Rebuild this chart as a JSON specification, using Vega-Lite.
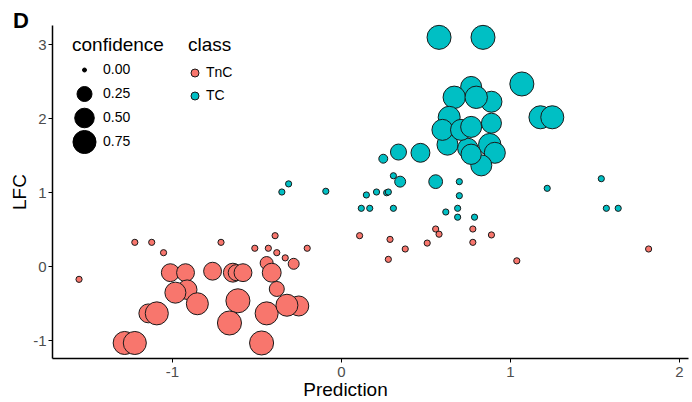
{
  "$schema": "https://vega.github.io/schema/vega-lite/v6.json",
  "width": 636,
  "height": 333,
  "autosize": {"type": "none"},
  "padding": {"left": 52, "top": 25, "right": 4, "bottom": 44},
  "config": {"view": {"stroke": null}, "font": "Liberation Sans", "legend": {"padding": 0}},
  "title": {"text": "D", "anchor": "start", "frame": "group", "orient": "top", "baseline": "alphabetic", "offset": 0, "dx": -39, "dy": 27, "fontSize": 22, "fontWeight": "bold", "color": "black"},
  "data": {"values": [
    {"x": -1.55, "y": -0.18, "class": "TnC", "confidence": 0.01},
    {"x": -1.22, "y": 0.32, "class": "TnC", "confidence": 0.01},
    {"x": -1.12, "y": 0.32, "class": "TnC", "confidence": 0.01},
    {"x": -1.05, "y": 0.18, "class": "TnC", "confidence": 0.01},
    {"x": -1.01, "y": -0.09, "class": "TnC", "confidence": 0.40},
    {"x": -0.92, "y": -0.09, "class": "TnC", "confidence": 0.40},
    {"x": -0.91, "y": -0.32, "class": "TnC", "confidence": 0.50},
    {"x": -0.98, "y": -0.36, "class": "TnC", "confidence": 0.60},
    {"x": -0.85, "y": -0.51, "class": "TnC", "confidence": 0.67},
    {"x": -1.14, "y": -0.64, "class": "TnC", "confidence": 0.46},
    {"x": -1.09, "y": -0.64, "class": "TnC", "confidence": 0.75},
    {"x": -1.28, "y": -1.04, "class": "TnC", "confidence": 0.75},
    {"x": -1.22, "y": -1.04, "class": "TnC", "confidence": 0.75},
    {"x": -0.71, "y": 0.32, "class": "TnC", "confidence": 0.01},
    {"x": -0.76, "y": -0.07, "class": "TnC", "confidence": 0.40},
    {"x": -0.64, "y": -0.09, "class": "TnC", "confidence": 0.46},
    {"x": -0.62, "y": -0.09, "class": "TnC", "confidence": 0.30},
    {"x": -0.58, "y": -0.09, "class": "TnC", "confidence": 0.40},
    {"x": -0.51, "y": 0.24, "class": "TnC", "confidence": 0.01},
    {"x": -0.43, "y": 0.24, "class": "TnC", "confidence": 0.01},
    {"x": -0.39, "y": 0.41, "class": "TnC", "confidence": 0.01},
    {"x": -0.38, "y": 0.18, "class": "TnC", "confidence": 0.01},
    {"x": -0.33, "y": 0.11, "class": "TnC", "confidence": 0.01},
    {"x": -0.28, "y": 0.03, "class": "TnC", "confidence": 0.10},
    {"x": -0.44, "y": 0.04, "class": "TnC", "confidence": 0.17},
    {"x": -0.41, "y": -0.09, "class": "TnC", "confidence": 0.46},
    {"x": -0.38, "y": -0.31, "class": "TnC", "confidence": 0.25},
    {"x": -0.20, "y": 0.24, "class": "TnC", "confidence": 0.01},
    {"x": -0.61, "y": -0.47, "class": "TnC", "confidence": 0.83},
    {"x": -0.66, "y": -0.77, "class": "TnC", "confidence": 0.83},
    {"x": -0.44, "y": -0.64, "class": "TnC", "confidence": 0.75},
    {"x": -0.25, "y": -0.54, "class": "TnC", "confidence": 0.53},
    {"x": -0.32, "y": -0.53, "class": "TnC", "confidence": 0.67},
    {"x": -0.47, "y": -1.04, "class": "TnC", "confidence": 0.83},
    {"x": 0.11, "y": 0.41, "class": "TnC", "confidence": 0.01},
    {"x": 0.29, "y": 0.36, "class": "TnC", "confidence": 0.01},
    {"x": 0.28, "y": 0.09, "class": "TnC", "confidence": 0.01},
    {"x": 0.38, "y": 0.23, "class": "TnC", "confidence": 0.01},
    {"x": 0.51, "y": 0.31, "class": "TnC", "confidence": 0.01},
    {"x": 0.56, "y": 0.50, "class": "TnC", "confidence": 0.01},
    {"x": 0.58, "y": 0.43, "class": "TnC", "confidence": 0.01},
    {"x": 0.78, "y": 0.50, "class": "TnC", "confidence": 0.01},
    {"x": 0.78, "y": 0.32, "class": "TnC", "confidence": 0.01},
    {"x": 0.89, "y": 0.42, "class": "TnC", "confidence": 0.01},
    {"x": 1.04, "y": 0.07, "class": "TnC", "confidence": 0.01},
    {"x": 1.82, "y": 0.23, "class": "TnC", "confidence": 0.01},
    {"x": 0.58, "y": 3.09, "class": "TC", "confidence": 0.83},
    {"x": 0.84, "y": 3.09, "class": "TC", "confidence": 0.83},
    {"x": 1.07, "y": 2.46, "class": "TC", "confidence": 0.83},
    {"x": 0.77, "y": 2.42, "class": "TC", "confidence": 0.60},
    {"x": 0.89, "y": 2.22, "class": "TC", "confidence": 0.60},
    {"x": 0.67, "y": 2.28, "class": "TC", "confidence": 0.70},
    {"x": 0.80, "y": 2.28, "class": "TC", "confidence": 0.70},
    {"x": 0.64, "y": 2.01, "class": "TC", "confidence": 0.67},
    {"x": 1.18, "y": 2.01, "class": "TC", "confidence": 0.75},
    {"x": 1.25, "y": 2.01, "class": "TC", "confidence": 0.75},
    {"x": 0.89, "y": 1.93, "class": "TC", "confidence": 0.53},
    {"x": 0.88, "y": 1.64, "class": "TC", "confidence": 0.70},
    {"x": 0.91, "y": 1.53, "class": "TC", "confidence": 0.60},
    {"x": 0.83, "y": 1.36, "class": "TC", "confidence": 0.60},
    {"x": 0.63, "y": 1.64, "class": "TC", "confidence": 0.60},
    {"x": 0.75, "y": 1.59, "class": "TC", "confidence": 0.55},
    {"x": 0.77, "y": 1.51, "class": "TC", "confidence": 0.55},
    {"x": 0.60, "y": 1.84, "class": "TC", "confidence": 0.60},
    {"x": 0.71, "y": 1.84, "class": "TC", "confidence": 0.60},
    {"x": 0.77, "y": 1.88, "class": "TC", "confidence": 0.60},
    {"x": 0.47, "y": 1.53, "class": "TC", "confidence": 0.46},
    {"x": 0.34, "y": 1.54, "class": "TC", "confidence": 0.30},
    {"x": 0.25, "y": 1.45, "class": "TC", "confidence": 0.05},
    {"x": 0.56, "y": 1.14, "class": "TC", "confidence": 0.20},
    {"x": 0.35, "y": 1.14, "class": "TC", "confidence": 0.10},
    {"x": 0.31, "y": 1.22, "class": "TC", "confidence": 0.01},
    {"x": -0.35, "y": 1.00, "class": "TC", "confidence": 0.01},
    {"x": -0.31, "y": 1.11, "class": "TC", "confidence": 0.01},
    {"x": -0.09, "y": 1.01, "class": "TC", "confidence": 0.01},
    {"x": 0.15, "y": 0.96, "class": "TC", "confidence": 0.01},
    {"x": 0.21, "y": 1.00, "class": "TC", "confidence": 0.01},
    {"x": 0.27, "y": 0.99, "class": "TC", "confidence": 0.01},
    {"x": 0.28, "y": 1.00, "class": "TC", "confidence": 0.01},
    {"x": 0.12, "y": 0.78, "class": "TC", "confidence": 0.01},
    {"x": 0.17, "y": 0.78, "class": "TC", "confidence": 0.01},
    {"x": 0.31, "y": 0.78, "class": "TC", "confidence": 0.01},
    {"x": 0.70, "y": 1.14, "class": "TC", "confidence": 0.01},
    {"x": 0.70, "y": 0.95, "class": "TC", "confidence": 0.01},
    {"x": 0.69, "y": 0.78, "class": "TC", "confidence": 0.01},
    {"x": 0.69, "y": 0.66, "class": "TC", "confidence": 0.01},
    {"x": 0.62, "y": 0.73, "class": "TC", "confidence": 0.01},
    {"x": 0.79, "y": 0.66, "class": "TC", "confidence": 0.01},
    {"x": 1.22, "y": 1.05, "class": "TC", "confidence": 0.01},
    {"x": 1.54, "y": 1.18, "class": "TC", "confidence": 0.01},
    {"x": 1.57, "y": 0.78, "class": "TC", "confidence": 0.01},
    {"x": 1.64, "y": 0.78, "class": "TC", "confidence": 0.01}
  ]},
  "mark": {"type": "point", "shape": "circle", "filled": true, "stroke": "#1a1a1a", "strokeWidth": 1, "opacity": 1, "strokeOpacity": 1, "fillOpacity": 1},
  "encoding": {
    "x": {"field": "x", "type": "quantitative",
      "scale": {"domain": [-1.71, 2.053], "nice": false, "zero": false},
      "axis": {"values": [-1, 0, 1, 2], "title": "Prediction", "titleFontSize": 19, "titleFontWeight": "normal", "titleColor": "black", "titlePadding": 1, "titleX": 293,
        "labelFontSize": 15, "labelColor": "#4d4d4d", "labelPadding": 2, "labelExpr": "replace(datum.label, '\u2212', '-')", "domainColor": "black", "domainWidth": 1.5, "tickColor": "black", "tickSize": 4, "tickWidth": 1, "grid": false, "format": "d"}},
    "y": {"field": "y", "type": "quantitative",
      "scale": {"domain": [-1.243, 3.257], "nice": false, "zero": false},
      "axis": {"values": [-1, 0, 1, 2, 3], "title": "LFC", "titleFontSize": 19, "titleFontWeight": "normal", "titleColor": "black", "titlePadding": 3,
        "labelFontSize": 15, "labelColor": "#4d4d4d", "labelPadding": 2, "labelExpr": "replace(datum.label, '\u2212', '-')", "domainColor": "black", "domainWidth": 1.5, "tickColor": "black", "tickSize": 4, "tickWidth": 1, "grid": false, "format": "d"}},
    "fill": {"field": "class", "type": "nominal",
      "scale": {"domain": ["TnC", "TC"], "range": ["#F8766D", "#00BFC4"]},
      "legend": {"orient": "none", "legendX": 136, "legendY": 11, "title": "class", "titleFontSize": 19, "titleFontWeight": "normal", "titleColor": "black", "titlePadding": 11,
        "labelFontSize": 14, "labelColor": "black", "symbolSize": 64, "symbolStrokeColor": "#1a1a1a", "symbolStrokeWidth": 1, "symbolType": "circle", "gridAlign": "all", "rowPadding": 9, "labelOffset": 4}},
    "size": {"field": "confidence", "type": "quantitative",
      "scale": {"type": "linear", "domain": [0, 0.01, 0.05, 0.1, 0.25, 0.5, 0.75, 1], "range": [16, 38.4, 79.6, 120.1, 225, 382.6, 531.3, 676]},
      "legend": {"orient": "none", "legendX": 20, "legendY": 11, "title": "confidence", "titleFontSize": 19, "titleFontWeight": "normal", "titleColor": "black", "titlePadding": 3,
        "values": [0, 0.25, 0.5, 0.75], "format": ".2f", "labelFontSize": 14, "labelColor": "black", "symbolFillColor": "black", "symbolStrokeColor": "black", "symbolStrokeWidth": 1, "symbolType": "circle", "clipHeight": 24, "rowPadding": -1, "labelOffset": 6}}
  }
}
